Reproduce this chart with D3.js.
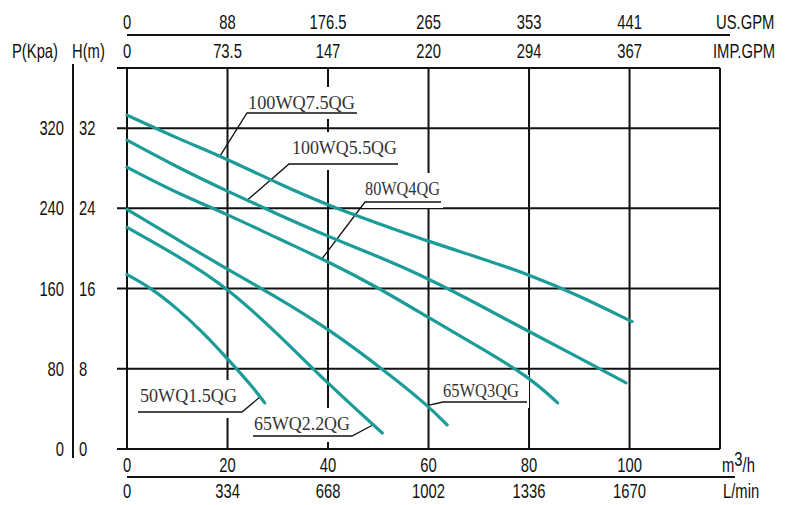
<!DOCTYPE html>
<meta charset="utf-8">
<style>

    body {
        margin: 0;
        background: #fff;
    }

    .num text {
        font-family: "Liberation Sans", Arial, sans-serif;
        font-size: 20px;
        fill: #111;
        transform-box: fill-box;
        transform-origin: center;
        transform: scaleX(0.74);
    }

    .num text.start {
        transform-origin: left;
    }

    .num text.end {
        transform-origin: right;
    }

    .grid line, .rule {
        stroke: #111;
        stroke-width: 2;
    }

    .curve {
        fill: none;
        stroke: #1c9c98;
        stroke-width: 3.2;
        stroke-linecap: round;
    }

    .tag text {
        font-family: "Liberation Serif", "DejaVu Serif", serif;
        font-size: 18px;
        fill: #333;
    }

    .tag path {
        fill: none;
        stroke: #111;
        stroke-width: 1.3;
    }

</style>
<svg width="791" height="505"></svg>
<script src="https://d3js.org/d3.v7.min.js"></script>
<script>
    // flow ticks (m3/h) and the converted labels
    var flowTicks = [0, 20, 40, 60, 80, 100];
    var usGpm = ["0", "88", "176.5", "265", "353", "441"];
    var impGpm = ["0", "73.5", "147", "220", "294", "367"];
    var lMin = ["0", "334", "668", "1002", "1336", "1670"];

    // head ticks (m) and pressure labels
    var headTicks = [0, 8, 16, 24, 32];
    var kpa = ["0", "80", "160", "240", "320"];

    var models = ["100WQ7.5QG", "100WQ5.5QG", "80WQ4QG", "65WQ3QG", "65WQ2.2QG", "50WQ1.5QG"];

    var flow100wq75 = [0, 10, 20, 30, 40, 50, 60, 70, 80, 90, 100.5];
    var head100wq75 = [33.3, 31.0, 28.9, 26.5, 24.3, 22.5, 20.7, 19.1, 17.4, 15.3, 12.7];

    var flow100wq55 = [0, 10, 20, 30, 40, 50, 60, 70, 80, 90, 99.3];
    var head100wq55 = [30.8, 28.1, 25.7, 23.4, 21.2, 19.2, 17.0, 14.4, 11.7, 9.1, 6.6];

    var flow80wq4 = [0, 10, 20, 30, 40, 50, 60, 70, 80, 85.7];
    var head80wq4 = [28.1, 25.5, 23.4, 21.0, 18.7, 16.1, 13.1, 10.2, 7.2, 4.6];

    var flow65wq3 = [0, 10, 20, 30, 40, 50, 60, 63.7];
    var head65wq3 = [23.9, 20.9, 17.9, 15.1, 12.0, 8.3, 4.3, 2.4];

    var flow65wq22 = [0, 10, 20, 30, 40, 50.8];
    var head65wq22 = [22.1, 19.3, 16.1, 11.5, 6.5, 1.6];

    var flow50wq15 = [0, 5, 10, 15, 20, 25, 27.4];
    var head50wq15 = [17.4, 16.0, 14.0, 11.7, 9.0, 6.2, 4.6];

    var flows = [flow100wq75, flow100wq55, flow80wq4, flow65wq3, flow65wq22, flow50wq15];
    var heads = [head100wq75, head100wq55, head80wq4, head65wq3, head65wq22, head50wq15];

    // where each leader line touches its curve (flow, m3/h)
    var tagFlow = [18.5, 23.9, 38.8, 59.9, 49, 26.5];

    // label placement: text x, baseline, underline x1/x2/y, width, leader from which end
    var tagLayout = [
        {tx: 248, ty: 109, u1: 247, u2: 357, uy: 113, w: 107, end: "left"},
        {tx: 292, ty: 154, u1: 289, u2: 398, uy: 164, w: 105, end: "left"},
        {tx: 365, ty: 195, u1: 365, u2: 441, uy: 202, w: 75, end: "left"},
        {tx: 443, ty: 397, u1: 443, u2: 527, uy: 402, w: 76, end: "left"},
        {tx: 254, ty: 430, u1: 253, u2: 352, uy: 436, w: 96, end: "right"},
        {tx: 140, ty: 402, u1: 138, u2: 242, uy: 412, w: 97, end: "right"}
    ];

    var svg = d3.select("svg");

    var x = d3.scaleLinear().domain([0, 118]).range([127, 720]);
    var y = d3.scaleLinear().domain([0, 38]).range([449, 68]);

    // grid
    var grid = svg.append("g").attr("class", "grid");
    grid.selectAll(".h")
        .data(headTicks.concat([38]))
        .enter().append("line")
        .attr("x1", 117).attr("x2", x(118))
        .attr("y1", function (d) { return y(d); })
        .attr("y2", function (d) { return y(d); });
    grid.selectAll(".v")
        .data(flowTicks.concat([118]))
        .enter().append("line")
        .attr("x1", function (d) { return x(d); })
        .attr("x2", function (d) { return x(d); })
        .attr("y1", y(38)).attr("y2", y(0));

    // top scales
    svg.append("line").attr("class", "rule")
        .attr("x1", x(0)).attr("x2", 730).attr("y1", 35).attr("y2", 35);

    var topAxis = svg.append("g").attr("class", "num");
    topAxis.selectAll(".us")
        .data(flowTicks)
        .enter().append("text")
        .attr("x", function (d) { return x(d); })
        .attr("y", 29)
        .attr("text-anchor", "middle")
        .text(function (d, i) { return usGpm[i]; });
    topAxis.selectAll(".imp")
        .data(flowTicks)
        .enter().append("text")
        .attr("x", function (d) { return x(d); })
        .attr("y", 58)
        .attr("text-anchor", "middle")
        .text(function (d, i) { return impGpm[i]; });
    topAxis.append("text").attr("class", "start").attr("x", 716).attr("y", 29).text("US.GPM");
    topAxis.append("text").attr("class", "start").attr("x", 713).attr("y", 58).text("IMP.GPM");

    // left scales
    svg.append("line").attr("class", "rule")
        .attr("x1", 73).attr("x2", 73).attr("y1", 64).attr("y2", 458);

    var leftAxis = svg.append("g").attr("class", "num");
    leftAxis.append("text").attr("class", "start").attr("x", 12).attr("y", 58).text("P(Kpa)");
    leftAxis.append("text").attr("class", "start").attr("x", 72).attr("y", 58).text("H(m)");
    leftAxis.selectAll(".kpa")
        .data(headTicks)
        .enter().append("text")
        .attr("class", "end")
        .attr("x", 64)
        .attr("y", function (d) { return y(d); })
        .attr("dy", "0.35em")
        .attr("text-anchor", "end")
        .text(function (d, i) { return kpa[i]; });
    leftAxis.selectAll(".m")
        .data(headTicks)
        .enter().append("text")
        .attr("class", "start")
        .attr("x", 79)
        .attr("y", function (d) { return y(d); })
        .attr("dy", "0.35em")
        .text(function (d) { return d; });

    // bottom scales
    svg.append("line").attr("class", "rule")
        .attr("x1", x(0)).attr("x2", 735).attr("y1", 477).attr("y2", 477);

    var bottomAxis = svg.append("g").attr("class", "num");
    bottomAxis.selectAll(".q")
        .data(flowTicks)
        .enter().append("text")
        .attr("x", function (d) { return x(d); })
        .attr("y", 472)
        .attr("text-anchor", "middle")
        .text(function (d) { return d; });
    bottomAxis.selectAll(".l")
        .data(flowTicks)
        .enter().append("text")
        .attr("x", function (d) { return x(d); })
        .attr("y", 498)
        .attr("text-anchor", "middle")
        .text(function (d, i) { return lMin[i]; });
    var unit = bottomAxis.append("text").attr("class", "start").attr("x", 722).attr("y", 472);
    unit.append("tspan").text("m");
    unit.append("tspan").attr("dy", -6).text("3");
    unit.append("tspan").attr("dy", 6).text("/h");
    bottomAxis.append("text").attr("class", "start").attr("x", 723).attr("y", 498).text("L/min");

    // label boxes hide the grid behind them
    var tags = svg.append("g").attr("class", "tag")
        .selectAll("g")
        .data(tagLayout)
        .enter().append("g");

    tags.append("rect")
        .attr("x", function (d) { return d.tx - 3; })
        .attr("y", function (d) { return d.ty - 22; })
        .attr("width", function (d) { return d.u2 - d.tx + 5; })
        .attr("height", function (d) { return d.uy - d.ty + 28; })
        .attr("fill", "#fff");

    // curves
    var line = d3.line()
        .x(function (d) { return x(d[0]); })
        .y(function (d) { return y(d[1]); })
        .curve(d3.curveBasis);

    svg.append("g")
        .selectAll("path")
        .data(models)
        .enter().append("path")
        .attr("class", "curve")
        .attr("d", function (d, i) {
            return line(d3.zip(flows[i], heads[i]));
        });

    // labels with underline and leader
    tags.append("text")
        .attr("x", function (d) { return d.tx; })
        .attr("y", function (d) { return d.ty; })
        .attr("textLength", function (d) { return d.w; })
        .attr("lengthAdjust", "spacingAndGlyphs")
        .text(function (d, i) { return models[i]; });

    tags.append("path")
        .attr("d", function (d, i) {
            var h = d3.scaleLinear().domain(flows[i]).range(heads[i])(tagFlow[i]);
            var px = x(tagFlow[i]), py = y(h);
            if (d.end === "left") {
                return "M" + px + "," + py + "L" + d.u1 + "," + d.uy + "H" + d.u2;
            }
            return "M" + d.u1 + "," + d.uy + "H" + d.u2 + "L" + px + "," + py;
        });

</script>
